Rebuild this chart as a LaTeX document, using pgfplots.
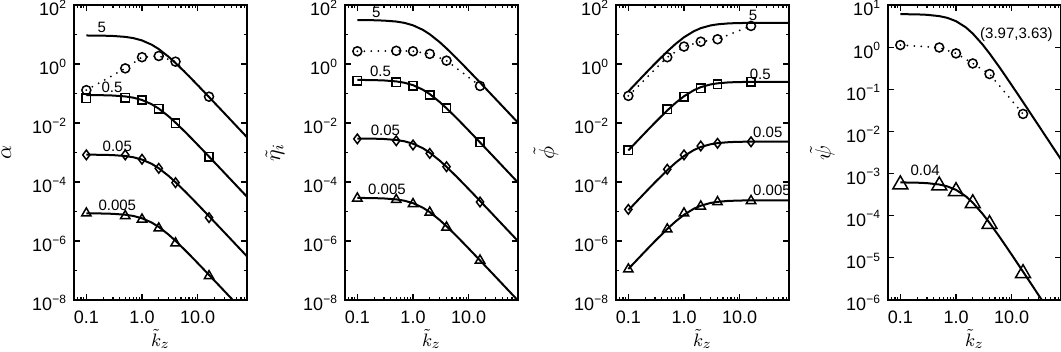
\documentclass[border=0pt]{standalone}
\usepackage{pgfplots}
\pgfplotsset{compat=1.18}
\usepackage{fontspec}
\setmainfont{Liberation Sans}

\pgfplotsset{
  myPanel/.style={
    scale only axis, width=86.5pt, height=147.5pt, anchor=south west,
    xmin=0.06, xmax=77,
    xtick={0.1,1,10}, xticklabels={0.1,1.0,10.0},
    minor xtick={0.07,0.08,0.09,0.2,0.3,0.4,0.5,0.6,0.7,0.8,0.9,2,3,4,5,6,7,8,9,20,30,40,50,60,70},
    tick align=inside, major tick length=3pt, minor tick length=1.5pt,
    axis line style={line width=0.9pt},
    tick style={black, line width=0.6pt},
    tick label style={font=\fontsize{9}{10}\selectfont},
    xticklabel style={yshift=-2pt},
    yticklabel style={yshift=-1.5pt},
    xlabel={$\tilde{k}_z$},
    every axis x label/.style={at={(axis description cs:0.5,-0.133)}, anchor=center, font=\fontsize{9.5}{10}\selectfont, inner sep=0pt},
    every axis y label/.style={at={(axis description cs:-0.405,0.5)}, rotate=90, anchor=center, font=\fontsize{11}{12}\selectfont},
  },
  myWide/.style={
    ymin=1e-8, ymax=1e2,
    ytick={1e-8,1e-6,1e-4,1e-2,1,1e2},
    yticklabels={10\textsuperscript{−8},10\textsuperscript{−6},10\textsuperscript{−4},10\textsuperscript{−2},10\textsuperscript{0},10\textsuperscript{2}},
    minor ytick={1e-7,1e-5,1e-3,1e-1,1e1},
  },
}
\tikzset{
  myCurve/.style={black, line width=1pt},
  myDots/.style={black, line width=1pt, line cap=round, dash pattern=on 0pt off 3.5pt},
  myLab/.style={font=\fontsize{7.5}{8}\selectfont, inner sep=0pt},
}

\begin{document}
\begin{tikzpicture}
\path[use as bounding box] (0,0) rectangle (530.5pt,176pt);

% panel 1: alpha
\begin{loglogaxis}[myPanel, myWide, at={(37pt,26pt)}, ylabel={$\tilde{\alpha}$}]
\addplot[myCurve, no marks] coordinates {(0.1,9.26)(0.2,9.13)(0.3,8.92)(0.5,8.31)(0.7,7.54)(1,6.30)(1.5,4.49)(2,3.21)(3,1.76)(4,1.08)(6,0.513)(8,0.296)(12,0.134)(16,0.0757)(24,0.0339)(36,0.0151)(50,0.00781)(80,0.00305)};
\addplot[myCurve, no marks] coordinates {(0.1,0.0886)(0.2,0.0873)(0.3,0.0854)(0.5,0.0795)(0.7,0.0722)(1,0.0603)(1.5,0.0430)(2,0.0307)(3,0.0169)(4,0.0103)(6,0.00491)(8,0.00283)(12,0.00128)(16,7.24e-4)(24,3.24e-4)(36,1.44e-4)(50,7.48e-5)(80,2.92e-5)};
\addplot[myCurve, no marks] coordinates {(0.1,8.46e-4)(0.2,8.34e-4)(0.3,8.15e-4)(0.5,7.60e-4)(0.7,6.89e-4)(1,5.76e-4)(1.5,4.11e-4)(2,2.93e-4)(3,1.61e-4)(4,9.87e-5)(6,4.69e-5)(8,2.70e-5)(12,1.22e-5)(16,6.92e-6)(24,3.09e-6)(36,1.38e-6)(50,7.14e-7)(80,2.79e-7)};
\addplot[myCurve, no marks] coordinates {(0.1,8.66e-6)(0.2,8.54e-6)(0.3,8.34e-6)(0.5,7.78e-6)(0.7,7.06e-6)(1,5.89e-6)(1.5,4.20e-6)(2,3.00e-6)(3,1.65e-6)(4,1.01e-6)(6,4.80e-7)(8,2.77e-7)(12,1.25e-7)(16,7.08e-8)(24,3.17e-8)(36,1.41e-8)(50,7.31e-9)(80,2.85e-9)};
\addplot[myDots, mark=o, mark size=2.25pt, mark options={solid, line width=0.75pt}] coordinates {(0.1,0.13)(0.5,0.71)(1,1.7)(2,1.87)(4,1.2)(16,0.078)};
\addplot[black, only marks, mark=square, mark size=2.1pt, mark options={line width=0.75pt}] coordinates {(0.1,0.069)(0.5,0.072)(1,0.060)(2,0.030)(4,0.0098)(16,7.2e-4)};
\addplot[black, only marks, mark=diamond, mark size=2.4pt, mark options={line width=0.75pt}] coordinates {(0.1,8.3e-4)(0.5,8.3e-4)(1,5.9e-4)(2,2.9e-4)(4,9.5e-5)(16,6.2e-6)};
\addplot[black, only marks, mark=triangle, mark size=2.7pt, mark options={line width=0.75pt}] coordinates {(0.1,8.7e-6)(0.5,7.1e-6)(1,5.4e-6)(2,2.7e-6)(4,8.4e-7)(16,6.5e-8)};
\node[myLab] at (axis cs:0.19,17.5) {5};
\node[myLab] at (axis cs:0.29,0.16) {0.5};
\node[myLab] at (axis cs:0.36,1.6e-3) {0.05};
\node[myLab] at (axis cs:0.36,1.66e-5) {0.005};
\end{loglogaxis}

% panel 2: eta
\begin{loglogaxis}[myPanel, myWide, at={(172.5pt,26pt)}, ylabel={$\tilde{\eta}_i$}]
\addplot[myCurve, no marks] coordinates {(0.1,30.8)(0.2,30.4)(0.3,29.6)(0.5,27.5)(0.7,24.8)(1,20.5)(1.5,14.4)(2,10.2)(3,5.54)(4,3.38)(6,1.60)(8,0.921)(12,0.416)(16,0.236)(24,0.105)(36,0.0468)(50,0.0243)(80,0.00949)};
\addplot[myCurve, no marks] coordinates {(0.1,0.289)(0.2,0.284)(0.3,0.277)(0.5,0.257)(0.7,0.232)(1,0.192)(1.5,0.135)(2,0.0954)(3,0.0519)(4,0.0316)(6,0.0150)(8,0.00861)(12,0.00389)(16,0.00220)(24,9.83e-4)(36,4.38e-4)(50,2.27e-4)(80,8.87e-5)};
\addplot[myCurve, no marks] coordinates {(0.1,2.98e-3)(0.2,2.94e-3)(0.3,2.87e-3)(0.5,2.66e-3)(0.7,2.40e-3)(1,1.99e-3)(1.5,1.40e-3)(2,9.87e-4)(3,5.36e-4)(4,3.27e-4)(6,1.55e-4)(8,8.91e-5)(12,4.03e-5)(16,2.28e-5)(24,1.02e-5)(36,4.53e-6)(50,2.35e-6)(80,9.18e-7)};
\addplot[myCurve, no marks] coordinates {(0.1,2.89e-5)(0.2,2.84e-5)(0.3,2.77e-5)(0.5,2.57e-5)(0.7,2.32e-5)(1,1.92e-5)(1.5,1.35e-5)(2,9.54e-6)(3,5.19e-6)(4,3.16e-6)(6,1.50e-6)(8,8.61e-7)(12,3.89e-7)(16,2.20e-7)(24,9.83e-8)(36,4.38e-8)(50,2.27e-8)(80,8.87e-9)};
\addplot[myDots, mark=o, mark size=2.25pt, mark options={solid, line width=0.75pt}] coordinates {(0.1,2.7)(0.5,2.8)(1,2.7)(2,2.2)(4,1.3)(16,0.18)};
\addplot[black, only marks, mark=square, mark size=2.1pt, mark options={line width=0.75pt}] coordinates {(0.1,0.27)(0.5,0.24)(1,0.184)(2,0.089)(4,0.032)(16,0.0022)};
\addplot[black, only marks, mark=diamond, mark size=2.4pt, mark options={line width=0.75pt}] coordinates {(0.1,2.9e-3)(0.5,2.5e-3)(1,1.8e-3)(2,9.3e-4)(4,3.3e-4)(16,2.1e-5)};
\addplot[black, only marks, mark=triangle, mark size=2.7pt, mark options={line width=0.75pt}] coordinates {(0.1,2.8e-5)(0.5,2.5e-5)(1,1.8e-5)(2,9.3e-6)(4,2.9e-6)(16,2.2e-7)};
\node[myLab] at (axis cs:0.22,56) {5};
\node[myLab] at (axis cs:0.26,0.56) {0.5};
\node[myLab] at (axis cs:0.32,5.8e-3) {0.05};
\node[myLab] at (axis cs:0.34,5.5e-5) {0.005};
\end{loglogaxis}

% panel 3: phi
\begin{loglogaxis}[myPanel, myWide, at={(308pt,26pt)}, ylabel={$\tilde{\phi}$}]
\addplot[myCurve, no marks] coordinates {(0.1,0.1175)(0.2,0.465)(0.3,1.025)(0.5,2.66)(0.7,4.73)(1,8.06)(1.5,12.9)(2,16.4)(3,20.3)(4,22.1)(6,23.6)(8,24.2)(12,24.6)(16,24.8)(24,24.9)(36,25.0)(50,25.0)(80,25.0)};
\addplot[myCurve, no marks] coordinates {(0.1,1.18e-3)(0.2,4.65e-3)(0.3,0.01025)(0.5,0.0266)(0.7,0.0473)(1,0.0806)(1.5,0.129)(2,0.164)(3,0.203)(4,0.221)(6,0.236)(8,0.242)(12,0.246)(16,0.248)(24,0.249)(36,0.250)(50,0.250)(80,0.250)};
\addplot[myCurve, no marks] coordinates {(0.1,1.10e-5)(0.2,4.37e-5)(0.3,9.64e-5)(0.5,2.50e-4)(0.7,4.44e-4)(1,7.58e-4)(1.5,1.21e-3)(2,1.54e-3)(3,1.90e-3)(4,2.08e-3)(6,2.22e-3)(8,2.28e-3)(12,2.32e-3)(16,2.33e-3)(24,2.34e-3)(36,2.35e-3)(50,2.35e-3)(80,2.35e-3)};
\addplot[myCurve, no marks] coordinates {(0.1,1.13e-7)(0.2,4.46e-7)(0.3,9.84e-7)(0.5,2.55e-6)(0.7,4.54e-6)(1,7.74e-6)(1.5,1.24e-5)(2,1.57e-5)(3,1.95e-5)(4,2.12e-5)(6,2.27e-5)(8,2.32e-5)(12,2.37e-5)(16,2.38e-5)(24,2.39e-5)(36,2.40e-5)(50,2.40e-5)(80,2.40e-5)};
\addplot[myDots, mark=o, mark size=2.25pt, mark options={solid, line width=0.75pt}] coordinates {(0.1,0.083)(0.5,1.7)(1,3.9)(2,5.7)(4,6.9)(16,19.5)};
\addplot[black, only marks, mark=square, mark size=2.1pt, mark options={line width=0.75pt}] coordinates {(0.1,1.2e-3)(0.5,0.029)(1,0.078)(2,0.15)(4,0.205)(16,0.25)};
\addplot[black, only marks, mark=diamond, mark size=2.4pt, mark options={line width=0.75pt}] coordinates {(0.1,1.18e-5)(0.5,2.7e-4)(1,8.3e-4)(2,1.66e-3)(4,2.05e-3)(16,2.3e-3)};
\addplot[black, only marks, mark=triangle, mark size=2.7pt, mark options={line width=0.75pt}] coordinates {(0.1,1.1e-7)(0.5,2.5e-6)(1,8.7e-6)(2,1.5e-5)(4,2.1e-5)(16,2.3e-5)};
\node[myLab] at (axis cs:17.4,46) {5};
\node[myLab] at (axis cs:23.5,0.46) {0.5};
\node[myLab] at (axis cs:32,4.7e-3) {0.05};
\node[myLab] at (axis cs:38,5.1e-5) {0.005};
\end{loglogaxis}

% panel 4: psi
\begin{loglogaxis}[myPanel, at={(444pt,26pt)}, ylabel={$\tilde{\psi}$},
  every axis y label/.style={at={(axis description cs:-0.38,0.5)}, rotate=90, anchor=center, font=\fontsize{11}{12}\selectfont},
  ymin=1e-6, ymax=10,
  ytick={1e-6,1e-5,1e-4,1e-3,1e-2,1e-1,1,10},
  yticklabels={10\textsuperscript{−6},10\textsuperscript{−5},10\textsuperscript{−4},10\textsuperscript{−3},10\textsuperscript{−2},10\textsuperscript{−1},10\textsuperscript{0},10\textsuperscript{1}},
  yminorticks=false]
\addplot[myCurve, no marks] coordinates {(0.1,6.07)(0.2,5.99)(0.3,5.85)(0.5,5.45)(0.7,4.95)(1,4.13)(1.5,2.95)(2,2.10)(3,1.155)(4,0.708)(6,0.337)(8,0.194)(12,0.0878)(16,0.0497)(24,0.0222)(36,0.00988)(50,0.00512)(80,0.00200)};
\addplot[myCurve, no marks] coordinates {(0.1,6.17e-4)(0.2,6.08e-4)(0.3,5.93e-4)(0.5,5.50e-4)(0.7,4.96e-4)(1,4.11e-4)(1.5,2.89e-4)(2,2.04e-4)(3,1.11e-4)(4,6.76e-5)(6,3.20e-5)(8,1.84e-5)(12,8.33e-6)(16,4.71e-6)(24,2.10e-6)(36,9.36e-7)(50,4.86e-7)(80,1.90e-7)};
\addplot[myDots, mark=o, mark size=2.25pt, mark options={solid, line width=0.75pt}] coordinates {(0.1,1.12)(0.5,0.98)(1,0.71)(2,0.41)(4,0.23)(16,0.026)};
\addplot[black, only marks, mark=triangle, mark size=4.3pt, mark options={line width=0.75pt}] coordinates {(0.1,5.5e-4)(0.5,5.2e-4)(1,3.8e-4)(2,1.96e-4)(4,6.3e-5)(16,4.3e-6)};
\node[myLab] at (axis cs:0.28,1.18e-3) {0.04};
\node[myLab] at (axis cs:12.2,1.93) {(3.97,3.63)};
\end{loglogaxis}
\end{tikzpicture}
\end{document}
